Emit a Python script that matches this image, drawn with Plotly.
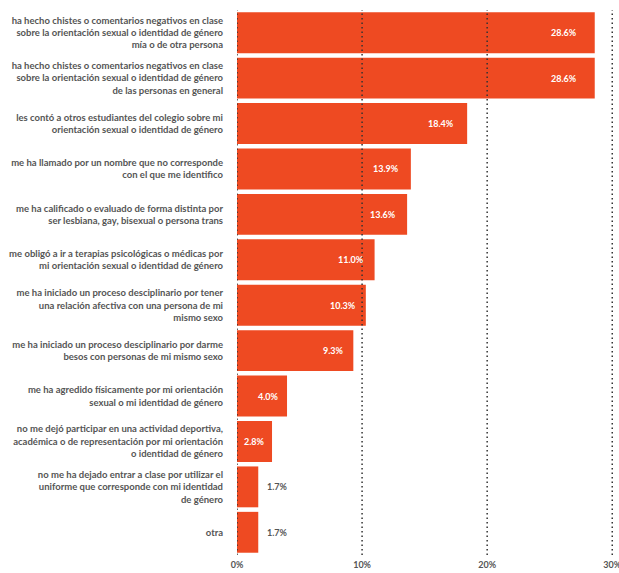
import plotly.graph_objects as go

# --------------------------------------------------------------------------- #
# Data (top to bottom as drawn)
# --------------------------------------------------------------------------- #
categories = [
    "ha hecho chistes o comentarios negativos en clase<br>sobre la orientación sexual o identidad de género<br>mía o de otra persona",
    "ha hecho chistes o comentarios negativos en clase<br>sobre la orientación sexual o identidad de género<br>de las personas en general",
    "les contó a otros estudiantes del colegio sobre mi<br>orientación sexual o identidad de género",
    "me ha llamado por un nombre que no corresponde<br>con el que me identifico",
    "me ha calificado o evaluado de forma distinta por<br>ser lesbiana, gay, bisexual o persona trans",
    "me obligó a ir a terapias psicológicas o médicas por<br>mi orientación sexual o identidad de género",
    "me ha iniciado un proceso desciplinario por tener<br>una relación afectiva con una persona de mi<br>mismo sexo",
    "me ha iniciado un proceso desciplinario por darme<br>besos con personas de mi mismo sexo",
    "me ha agredido físicamente por mi orientación<br>sexual o mi identidad de género",
    "no me dejó participar en una actividad deportiva,<br>académica o de representación por mi orientación<br>o identidad de género",
    "no me ha dejado entrar a clase por utilizar el<br>uniforme que corresponde con mi identidad<br>de género",
    "otra",
]
values = [28.6, 28.6, 18.4, 13.9, 13.6, 11.0, 10.3, 9.3, 4.0, 2.8, 1.7, 1.7]
x_ticks = [0, 10, 20, 30]
x_tick_labels = ["0%", "10%", "20%", "30%"]

BAR = "#EE4A22"
GREY = "#555555"
FONT = "Lato"

fig = go.Figure(
    go.Bar(
        x=values,
        y=categories,
        orientation="h",
        marker=dict(color=BAR, line=dict(width=0)),
        hoverinfo="skip",
    )
)

# value labels: inside near the bar end, outside for the tiny bars
for cat, v in zip(categories, values):
    inside = v >= 2.5
    fig.add_annotation(
        x=v,
        y=cat,
        text=f"<b>{v:.1f}%</b>",
        showarrow=False,
        xanchor="right" if inside else "left",
        # the source pads the label a bit more on the long bars
        xshift=-(4 + 0.4 * v) if inside else 7,
        font=dict(family=FONT, size=9, color="white" if inside else GREY),
    )

# dotted grid drawn over the bars
for t in x_ticks:
    fig.add_shape(
        type="line",
        xref="x",
        yref="paper",
        x0=t,
        x1=t,
        y0=0,
        y1=1,
        layer="above",
        line=dict(color="#333333", width=1.5, dash="1.5px,3px"),
    )

fig.update_layout(
    width=619,
    height=573,
    margin=dict(l=237, r=3, t=10, b=18),
    paper_bgcolor="white",
    plot_bgcolor="white",
    bargap=0.1,
    showlegend=False,
    font=dict(family=FONT, color=GREY),
)
fig.update_xaxes(
    range=[0, 30.3],  # a little slack so the 30% line stays inside
    tickmode="array",
    tickvals=x_ticks,
    ticktext=x_tick_labels,
    showgrid=False,
    zeroline=False,
    showline=False,
    ticks="",
    automargin=False,
    ticklabeloverflow="allow",
    ticklabelstandoff=3,
    tickfont=dict(family=FONT, size=9, color=GREY, weight=700),
)
fig.update_yaxes(
    autorange="reversed",
    showgrid=False,
    zeroline=False,
    showline=False,
    ticks="",
    automargin=False,
    ticklabelstandoff=13,
    tickfont=dict(family=FONT, size=9.5, color=GREY, weight=700),
)

# drop the default page margin so the figure fills the window exactly
fig.write_html(
    "out.html",
    config={"displayModeBar": False},
    post_script="document.body.style.margin = '0'; document.body.style.overflow = 'hidden';",
)
